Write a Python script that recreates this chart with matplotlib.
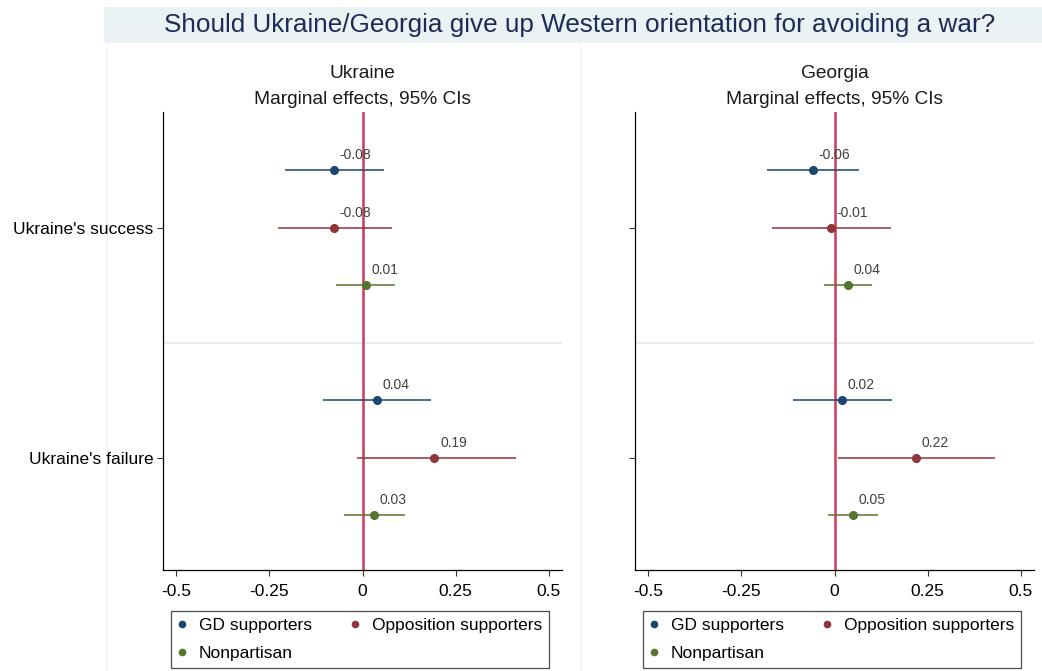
import matplotlib
matplotlib.use("Agg")
import matplotlib.pyplot as plt
from matplotlib.lines import Line2D
import numpy as np

plt.rcParams['font.family'] = ['Liberation Sans', 'DejaVu Sans']

# ---------------- data ----------------
categories = ["Ukraine's success", "Ukraine's failure"]
groups = ["GD supporters", "Opposition supporters", "Nonpartisan"]
panels = ["Ukraine", "Georgia"]

# Ukraine panel: estimates and 95% CI  [success, failure]
ukr_gd = [-0.077, 0.039]
ukr_gd_lo = [-0.209, -0.105]
ukr_gd_hi = [0.057, 0.184]
ukr_opp = [-0.076, 0.193]
ukr_opp_lo = [-0.226, -0.015]
ukr_opp_hi = [0.080, 0.411]
ukr_non = [0.009, 0.032]
ukr_non_lo = [-0.071, -0.049]
ukr_non_hi = [0.088, 0.113]

# Georgia panel
geo_gd = [-0.057, 0.021]
geo_gd_lo = [-0.180, -0.110]
geo_gd_hi = [0.067, 0.155]
geo_opp = [-0.009, 0.219]
geo_opp_lo = [-0.168, 0.010]
geo_opp_hi = [0.152, 0.430]
geo_non = [0.037, 0.050]
geo_non_lo = [-0.027, -0.018]
geo_non_hi = [0.101, 0.117]

xticks = [-0.5, -0.25, 0, 0.25, 0.5]
xticklabels = ["-0.5", "-0.25", "0", "0.25", "0.5"]

colors = ["#1a476f", "#90353b", "#55752f"]
zero_color = "#c93a5c"

panel_data = {
    "Ukraine": [(ukr_gd, ukr_gd_lo, ukr_gd_hi), (ukr_opp, ukr_opp_lo, ukr_opp_hi),
                (ukr_non, ukr_non_lo, ukr_non_hi)],
    "Georgia": [(geo_gd, geo_gd_lo, geo_gd_hi), (geo_opp, geo_opp_lo, geo_opp_hi),
                (geo_non, geo_non_lo, geo_non_hi)],
}

W, H = 1042, 671
fig = plt.figure(figsize=(W / 100, H / 100), dpi=100)

def fx(px):
    return px / W

def fy(py):
    return 1 - py / H

# title band
fig.patches.append(plt.Rectangle((fx(104), fy(43)), 1 - fx(104), (43 - 7) / H,
                                 transform=fig.transFigure, facecolor="#eaf2f3",
                                 edgecolor="none", zorder=0))
fig.text(fx(580), fy(25), "Should Ukraine/Georgia give up Western orientation for avoiding a war?",
         ha="center", va="center", fontsize=18.8, color="#1e2b58")

# faint subgraph borders
for xp in [107, 580]:
    fig.add_artist(Line2D([fx(xp), fx(xp)], [0, fy(43)], transform=fig.transFigure,
                          color="#f3f3f3", lw=1, zorder=0))

offsets = [-0.25, 0.0, 0.25]
ax_lefts = [163, 635]
ax_w = 399
ax_top, ax_bot = 112, 570

for pi, pname in enumerate(panels):
    ax = fig.add_axes([fx(ax_lefts[pi]), fy(ax_bot), ax_w / W, (ax_bot - ax_top) / H])
    ax.set_xlim(-0.535, 0.535)
    ax.set_ylim(2.487, 0.496)
    for s in ["top", "right"]:
        ax.spines[s].set_visible(False)
    for s in ["left", "bottom"]:
        ax.spines[s].set_color("black")
        ax.spines[s].set_linewidth(0.9)

    ax.axhline(1.5, color="#ebebeb", lw=1.5, zorder=0)
    ax.axvline(0, color=zero_color, lw=1.8, zorder=1)

    for gi, (est, lo, hi) in enumerate(panel_data[pname]):
        ys = np.arange(1, len(categories) + 1) + offsets[gi]
        ax.hlines(ys, lo, hi, color=colors[gi], lw=1.3, alpha=0.85, zorder=2)
        ax.plot(est, ys, "o", color=colors[gi], ms=5.5, zorder=3, linestyle="none")
        for xv, yv in zip(est, ys):
            ax.annotate(f"{xv:.2f}", (xv, yv), xytext=(4, 6), textcoords="offset points",
                        ha="left", va="bottom", fontsize=10, color="#404040", zorder=4)

    ax.set_xticks(xticks)
    ax.set_xticklabels(xticklabels)
    ax.set_yticks([1, 2])
    if pi == 0:
        ax.set_yticklabels(categories)
    else:
        ax.set_yticklabels([])
    ax.tick_params(axis="both", direction="out", length=4, width=0.8, color="#333333",
                   labelsize=12.5, labelcolor="black")
    ax.tick_params(axis="x", pad=6)
    ax.tick_params(axis="y", pad=3)

    cx = fx(ax_lefts[pi] + ax_w / 2)
    fig.text(cx, fy(73), pname, ha="center", va="center", fontsize=13.8, color="#1a1a1a")
    fig.text(cx, fy(99), "Marginal effects, 95% CIs", ha="center", va="center",
             fontsize=13.8, color="#1a1a1a")

    handles = [Line2D([], [], marker="o", linestyle="none", color=colors[i], ms=4.5)
               for i in [0, 2, 1]]
    labels = [groups[i] for i in [0, 2, 1]]
    lx0 = 171 if pi == 0 else 643
    leg = fig.legend(handles, labels, ncol=2, loc="upper left",
                     bbox_to_anchor=(fx(lx0), fy(611)),
                     bbox_transform=fig.transFigure,
                     fontsize=12.5, frameon=True, fancybox=False, borderpad=0.4,
                     handlelength=0.48, handletextpad=0.74, columnspacing=2.23,
                     labelspacing=0.72, borderaxespad=0.0)
    leg.get_frame().set_edgecolor("#222222")
    leg.get_frame().set_linewidth(0.9)

fig.savefig("out.png", dpi=100, facecolor="white")
